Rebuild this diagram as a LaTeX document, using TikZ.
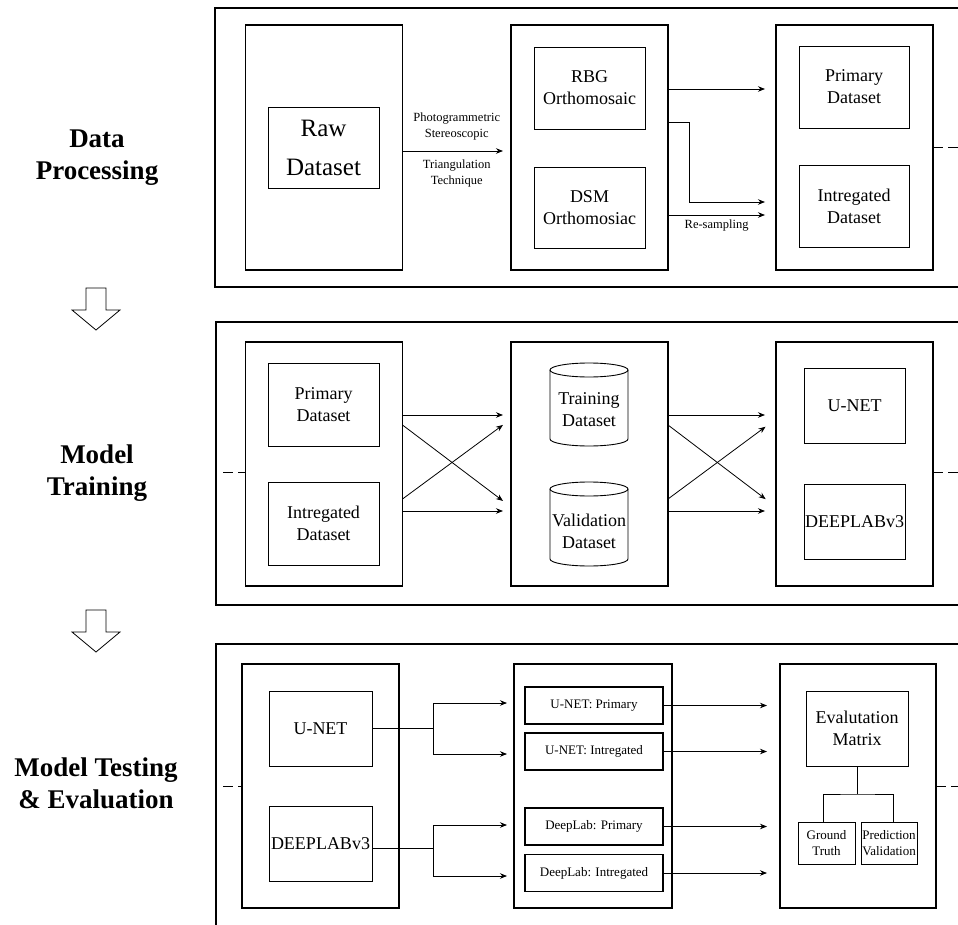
\documentclass[tikz,border=0pt]{standalone}
\usepackage{fontspec}
\setmainfont{Liberation Serif}
\usetikzlibrary{arrows.meta}
\begin{document}
\begin{tikzpicture}[x=1pt,y=-1pt,
  panel/.style={draw, line width=1.3pt, inner sep=0pt, outer sep=0pt},
  col/.style={draw, line width=1.1pt, inner sep=0pt, outer sep=0pt, minimum width=157pt, minimum height=245pt},
  box/.style={draw, line width=0.9pt, inner sep=0pt, outer sep=0pt, align=center, font=\fontsize{18}{22}\selectfont},
  txt/.style={inner sep=0pt, align=center, font=\fontsize{18}{22}\selectfont},
  lbl/.style={inner sep=0pt, align=center, font=\fontsize{12.5}{16}\selectfont},
  sbox/.style={draw, line width=1.6pt, inner sep=0pt, outer sep=0pt, minimum width=138pt, minimum height=37pt, font=\fontsize{13}{15}\selectfont},
  tbox/.style={draw, line width=0.9pt, inner sep=0pt, outer sep=0pt, align=center, minimum width=57pt, minimum height=42pt, font=\fontsize{13}{16}\selectfont},
  stage/.style={inner sep=0pt, align=center, font=\bfseries\fontsize{27}{32}\selectfont},
  arr/.style={-{Stealth[length=7pt,width=5.5pt]}, line width=0.8pt},
  conn/.style={line width=0.8pt},
  dashline/.style={line width=0.8pt, dash pattern=on 10pt off 5pt},
  cyl/.style={line width=0.9pt},
  blockarrow/.style={draw, line width=0.8pt, fill=white}
]
\fill[white] (0,0) rectangle (958,925);
\useasboundingbox (0,0) rectangle (958,925);

\coordinate (lx) at (223,0);
\coordinate (rx) at (958,0);

% stage labels
\node[stage] (s1) at (97,158) {Data\\Processing};
\node[stage] (s2) at (97,473) {Model\\Training};
\node[stage] (s3) at (96,783) {Model Testing\\\& Evaluation};
\draw[blockarrow] (86,288) -- (106,288) -- (106,310) -- (120,310) -- (96,330) -- (72,310) -- (86,310) -- cycle;
\draw[blockarrow] (86,610) -- (106,610) -- (106,632) -- (120,632) -- (96,652) -- (72,632) -- (86,632) -- cycle;

% ---------- panel 1 ----------
\node[panel, minimum width=755pt, minimum height=279pt] (P1) at (592.5,147.5) {};
\node[col] (c11) at (324,147.5) {};
\node[box, minimum width=111pt, minimum height=81pt, font=\fontsize{25}{39}\selectfont] (raw) at (323.5,147.5) {Raw\\Dataset};
\node[col] (c12) at (589.5,147.5) {};
\node[box, minimum width=111pt, minimum height=82pt] (rbg) at (589.5,88) {RBG\\Orthomosaic};
\node[box, minimum width=111pt, minimum height=81pt] (dsm) at (589.5,207.5) {DSM\\Orthomosiac};
\node[col] (c13) at (854.5,147.5) {};
\node[box, minimum width=110pt, minimum height=82pt] (prim1) at (854,87) {Primary\\Dataset};
\node[box, minimum width=110pt, minimum height=82pt] (int1) at (854,206) {Intregated\\Dataset};

\coordinate (t151) at (0,151);
\coordinate (t89) at (0,89);
\coordinate (t122) at (0,122);
\coordinate (t202) at (0,202);
\coordinate (t215) at (0,215);
\coordinate (tx) at (689,0);
\draw[arr, shorten >=8pt] (c11.east |- t151) -- node[lbl, above=10pt]{Photogrammetric\\Stereoscopic} node[lbl, below=8pt]{Triangulation\\Technique} (c12.west |- t151);
\draw[arr, shorten >=11pt] (c12.east |- t89) -- (c13.west |- t89);
\draw[arr, shorten >=11pt] (c12.east |- t122) -| (tx |- t202) -- (c13.west |- t202);
\draw[arr, shorten >=11pt] (c12.east |- t215) -- node[lbl, below=4pt, pos=0.45]{Re-sampling} (c13.west |- t215);
\draw[dashline] (c13.east) -- (c13.east -| rx);

% ---------- panel 2 ----------
\node[panel, minimum width=754pt, minimum height=283pt] (P2) at (593,463.5) {};
\node[col, minimum height=244pt] (c21) at (324,464) {};
\node[box, minimum width=111pt, minimum height=83pt] (prim2) at (323.5,404.5) {Primary\\Dataset};
\node[box, minimum width=111pt, minimum height=83pt] (int2) at (323.5,523.5) {Intregated\\Dataset};
\node[col, minimum height=244pt] (c22) at (589.5,464) {};
\draw[cyl] (589,370) ellipse [x radius=39, y radius=7];
\draw[cyl] (550,370) -- (550,439) .. controls (550,442.87) and (567.46,446) .. (589,446) .. controls (610.54,446) and (628,442.87) .. (628,439) -- (628,370);
\draw[cyl] (589,489) ellipse [x radius=39, y radius=7];
\draw[cyl] (550,489) -- (550,559) .. controls (550,562.87) and (567.46,566) .. (589,566) .. controls (610.54,566) and (628,562.87) .. (628,559) -- (628,489);
\node[txt] (train) at (589,410) {Training\\Dataset};
\node[txt] (valid) at (589,531) {Validation\\Dataset};
\node[col, minimum height=244pt] (c23) at (854.5,464) {};
\node[box, minimum width=101pt, minimum height=75pt] (unet2) at (854.5,405.5) {U-NET};
\node[box, minimum width=101pt, minimum height=75pt] (deep2) at (854.5,521.5) {DEEPLABv3};

\coordinate (m415) at (0,415);
\coordinate (m425) at (0,425);
\coordinate (m499) at (0,499);
\coordinate (m511) at (0,511);
\coordinate (m507) at (0,507);
\coordinate (m419) at (0,419);
\coordinate (m472) at (0,472);
\draw[arr, shorten >=8pt] (c21.east |- m415) -- (c22.west |- m415);
\draw[arr, shorten >=10pt] (c21.east |- m425) -- (c22.west |- m507);
\draw[arr, shorten >=10pt] (c21.east |- m499) -- (c22.west |- m419);
\draw[arr, shorten >=8pt] (c21.east |- m511) -- (c22.west |- m511);
\draw[arr, shorten >=11pt] (c22.east |- m415) -- (c23.west |- m415);
\draw[arr, shorten >=13pt] (c22.east |- m425) -- (c23.west |- m507);
\draw[arr, shorten >=13pt] (c22.east |- m499) -- (c23.west |- m419);
\draw[arr, shorten >=11pt] (c22.east |- m511) -- (c23.west |- m511);
\draw[dashline] (lx |- m472) -- (c21.west |- m472);
\draw[dashline] (c23.east |- m472) -- (rx |- m472);

% ---------- panel 3 ----------
\node[panel, minimum width=754pt, minimum height=301pt] (P3) at (593,794.5) {};
\node[col, minimum height=244pt] (c31) at (320.5,786) {};
\node[box, minimum width=103pt, minimum height=75pt] (unet3) at (320.5,728.5) {U-NET};
\node[box, minimum width=103pt, minimum height=75pt] (deep3) at (320.5,843.5) {DEEPLABv3};
\node[col, minimum width=158pt, minimum height=244pt] (c32) at (593,786) {};
\node[sbox] (b1) at (594,705.5) {U-NET: Primary};
\node[sbox] (b2) at (594,751.5) {U-NET: Intregated};
\node[sbox] (b3) at (594,826.5) {DeepLab: Primary};
\node[sbox] (b4) at (594,873) {DeepLab: Intregated};
\node[col, minimum width=156pt, minimum height=244pt] (c33) at (858,786) {};
\node[box, minimum width=102pt, minimum height=75pt] (eval) at (857,728.5) {Evalutation\\Matrix};
\node[tbox] (gt) at (826.5,843) {Ground\\Truth};
\node[tbox, minimum width=56pt] (pv) at (889,843) {Prediction\\Validation};

\coordinate (j1) at (433,728);
\coordinate (j1a) at (433,703);
\coordinate (j1b) at (433,754);
\coordinate (j2) at (433,848);
\coordinate (j2a) at (433,825);
\coordinate (j2b) at (433,876);
\draw[conn] (unet3.east |- j1) -- (j1);
\draw[arr, shorten >=7pt] (j1) |- (c32.west |- j1a);
\draw[arr, shorten >=7pt] (j1) |- (c32.west |- j1b);
\draw[conn] (deep3.east |- j2) -- (j2);
\draw[arr, shorten >=7pt] (j2) |- (c32.west |- j2a);
\draw[arr, shorten >=7pt] (j2) |- (c32.west |- j2b);

\draw[arr, shorten >=13pt] (b1.east) -- (c33.west |- b1.east);
\draw[arr, shorten >=13pt] (b2.east) -- (c33.west |- b2.east);
\draw[arr, shorten >=13pt] (b3.east) -- (c33.west |- b3.east);
\draw[arr, shorten >=13pt] (b4.east) -- (c33.west |- b4.east);

\coordinate (tj) at (857,794);
\draw[line width=1pt] (eval.south) -- (tj);
\draw[line width=1pt] ([xshift=-3.5pt]gt.north) |- (tj) -| ([xshift=4pt]pv.north);

\coordinate (m786) at (0,786);
\draw[dashline] (lx |- m786) -- (c31.west |- m786);
\draw[dashline] (c33.east |- m786) -- (rx |- m786);
\end{tikzpicture}
\end{document}
